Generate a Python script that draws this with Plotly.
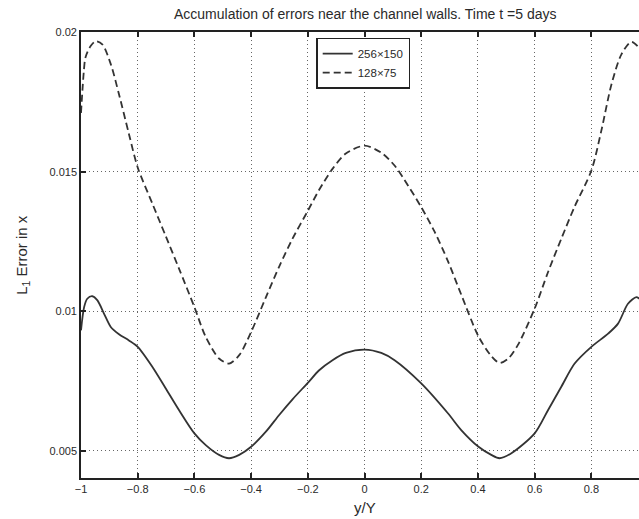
import plotly.graph_objects as go

# ---- data ----
x_fine = [-1.0, -0.989, -0.978, -0.96, -0.942, -0.919, -0.895, -0.866, -0.831, -0.8,
          -0.748, -0.701, -0.654, -0.6, -0.56, -0.513, -0.478, -0.442, -0.4, -0.348,
          -0.301, -0.254, -0.2, -0.16, -0.113, -0.066, 0.0, 0.059, 0.106, 0.2,
          0.294, 0.341, 0.402, 0.447, 0.476, 0.518, 0.6, 0.647, 0.694, 0.741,
          0.8, 0.859, 0.894, 0.929, 0.959, 0.973]
err_fine = [0.00932, 0.01015, 0.01045, 0.01054, 0.01039, 0.00992, 0.00944, 0.00918, 0.00896, 0.00873,
            0.00801, 0.00724, 0.00646, 0.00563, 0.00521, 0.00486, 0.00474, 0.00486, 0.00515, 0.00569,
            0.00629, 0.00685, 0.00744, 0.00789, 0.00825, 0.00851, 0.00863, 0.00851, 0.00825, 0.00742,
            0.00635, 0.00575, 0.00515, 0.00486, 0.00474, 0.00492, 0.00563, 0.00646, 0.0073, 0.00813,
            0.00873, 0.0092, 0.00956, 0.01027, 0.01051, 0.01042]

x_coarse = [-1.0, -0.99, -0.984, -0.966, -0.948, -0.925, -0.895, -0.866, -0.831, -0.8,
            -0.748, -0.701, -0.654, -0.6, -0.56, -0.513, -0.478, -0.442, -0.4, -0.348,
            -0.301, -0.254, -0.2, -0.16, -0.113, -0.066, 0.0, 0.059, 0.106, 0.141,
            0.2, 0.247, 0.294, 0.341, 0.402, 0.447, 0.476, 0.506, 0.541, 0.6,
            0.647, 0.694, 0.741, 0.8, 0.835, 0.871, 0.906, 0.941, 0.973]
err_coarse = [0.0171, 0.0186, 0.0191, 0.0195, 0.01967, 0.01956, 0.01885, 0.01777, 0.01635, 0.01515,
              0.01385, 0.01269, 0.01152, 0.01015, 0.00908, 0.00831, 0.00813, 0.00843, 0.00926, 0.0105,
              0.0116, 0.0126, 0.0136, 0.01435, 0.0151, 0.01565, 0.01593, 0.01568, 0.01522, 0.0147,
              0.01373, 0.01285, 0.0118, 0.0106, 0.0091, 0.0084, 0.00815, 0.0083, 0.0088, 0.0101,
              0.0114, 0.0126, 0.01375, 0.01504, 0.01646, 0.01813, 0.0192, 0.01965, 0.01938]

series_names = ["256×150", "128×75"]
x_ticks = [-1, -0.8, -0.6, -0.4, -0.2, 0, 0.2, 0.4, 0.6, 0.8, 1]
x_tick_text = ["−1", "−0.8", "−0.6", "−0.4", "−0.2", "0", "0.2", "0.4", "0.6", "0.8", "1"]
y_ticks = [0.005, 0.01, 0.015, 0.02]
y_tick_text = ["0.005", "0.01", "0.015", "0.02"]

FONT = "Liberation Sans, Arial, sans-serif"
INK = "#2a2a2a"

fig = go.Figure()
fig.add_trace(go.Scatter(x=x_fine, y=err_fine, mode="lines", name=series_names[0],
                         line=dict(color="#333333", width=1.8, shape="spline", smoothing=0.8)))
fig.add_trace(go.Scatter(x=x_coarse, y=err_coarse, mode="lines", name=series_names[1],
                         line=dict(color="#333333", width=1.8, dash="7px,4px",
                                   shape="spline", smoothing=0.8)))

axis_common = dict(showline=True, linecolor="#222222", linewidth=1.6,
                   ticks="inside", ticklen=5, tickwidth=1.5, tickcolor="#222222",
                   showgrid=True, gridcolor="#666666", griddash="1px,3px", gridwidth=1,
                   zeroline=False, tickfont=dict(family=FONT, size=11, color=INK))

fig.update_xaxes(range=[-1, 0.968], tickvals=x_ticks, ticktext=x_tick_text,
                 mirror="ticks", **axis_common)
fig.update_yaxes(range=[0.004033, 0.02], tickvals=y_ticks, ticktext=y_tick_text,
                 **axis_common)

fig.update_layout(
    width=639, height=519,
    margin=dict(l=81, r=0, t=32, b=41),
    paper_bgcolor="white", plot_bgcolor="white",
    font=dict(family=FONT, color=INK),
    showlegend=True,
    legend=dict(x=0.4215, y=0.9875, xanchor="left", yanchor="top",
                bgcolor="white", bordercolor="#222222", borderwidth=1.5,
                font=dict(family=FONT, size=11.5, color=INK),
                itemwidth=30, tracegroupgap=0),
    annotations=[
        dict(text="Accumulation of errors near the channel walls. Time t =5 days",
             x=0, xref="x", y=1.04, yref="paper", xanchor="center", yanchor="middle",
             showarrow=False, font=dict(family=FONT, size=14, color=INK)),
        dict(text="y/Y", x=0, xref="x", y=-0.066, yref="paper",
             xanchor="center", yanchor="middle", showarrow=False,
             font=dict(family=FONT, size=15, color=INK)),
        dict(text="L<sub>1</sub> Error in x", x=-0.106, xref="paper", y=0.5, yref="paper",
             xanchor="center", yanchor="middle", textangle=-90, showarrow=False,
             font=dict(family=FONT, size=15, color=INK)),
    ],
)

fig.write_html("out.html")
